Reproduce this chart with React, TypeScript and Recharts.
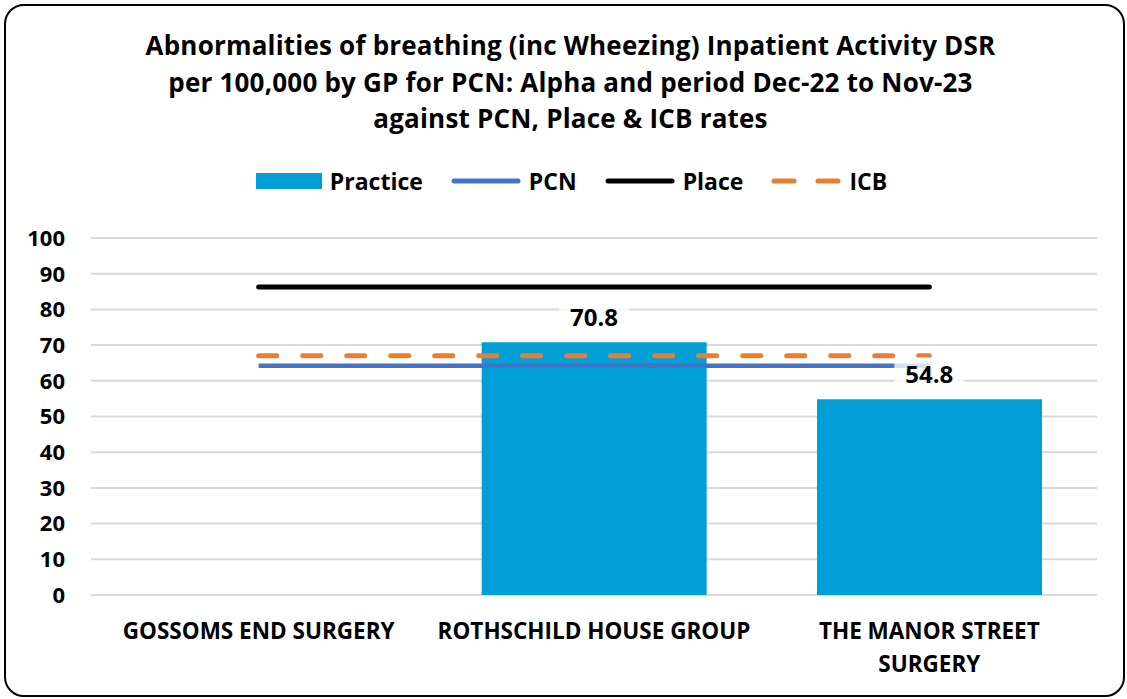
import React from 'react';
import {
  ComposedChart,
  Bar,
  Line,
  XAxis,
  YAxis,
  CartesianGrid,
  LabelList,
} from 'recharts';

const practices = ['GOSSOMS END SURGERY', 'ROTHSCHILD HOUSE GROUP', 'THE MANOR STREET SURGERY'];
const practiceRate = [null, 70.8, 54.8];
const pcnRate = [64.2, 64.2, 64.2];
const placeRate = [86.3, 86.3, 86.3];
const icbRate = [67.0, 67.0, 67.0];
const yTicks = [0, 10, 20, 30, 40, 50, 60, 70, 80, 90, 100];

const titleLines = [
  'Abnormalities of breathing (inc Wheezing) Inpatient Activity DSR',
  'per 100,000 by GP for PCN: Alpha and period Dec-22 to Nov-23',
  'against PCN, Place & ICB rates',
];

const FONT = '"Open Sans", Lato, sans-serif';
const BAR = '#009FD7';
const PCN = '#4472C4';
const PLACE = '#000000';
const ICB = '#ED7D31';

const data = practices.map((name, i) => ({
  name,
  practice: practiceRate[i],
  pcn: pcnRate[i],
  place: placeRate[i],
  icb: icbRate[i],
}));

// break a label into lines of at most 22 characters
const wrap = (s: string, max = 22) => {
  const lines: string[] = [];
  let cur = '';
  s.split(' ').forEach((w) => {
    if (cur && (cur + ' ' + w).length > max) {
      lines.push(cur);
      cur = w;
    } else {
      cur = cur ? cur + ' ' + w : w;
    }
  });
  if (cur) lines.push(cur);
  return lines;
};

const XTick = (props: any) => {
  const { x, y, payload } = props;
  return (
    <text
      x={x}
      y={y + 36}
      textAnchor="middle"
      style={{ fontFamily: FONT, fontSize: 22.5, fontWeight: 700, fill: '#000' }}
    >
      {wrap(payload.value).map((l, i) => (
        <tspan key={l} x={x} dy={i === 0 ? 0 : 33}>
          {l}
        </tspan>
      ))}
    </text>
  );
};

const ValueLabel = (props: any) => {
  const { x, y, value } = props;
  if (value == null) return null;
  const cy = y - 26;
  return (
    <g>
      <rect x={x - 35} y={cy - 16} width={70} height={32} fill="#fff" fillOpacity={0.78} />
      <text
        x={x}
        y={cy}
        textAnchor="middle"
        dominantBaseline="central"
        style={{ fontFamily: FONT, fontSize: 24, fontWeight: 700, fill: '#000' }}
      >
        {value}
      </text>
    </g>
  );
};

const legendText = { fontFamily: FONT, fontSize: 23, fontWeight: 700, color: '#000' };

const ChartLegend = () => (
  <div
    style={{
      position: 'absolute',
      left: 0,
      top: 165,
      width: 1127,
      display: 'flex',
      justifyContent: 'center',
      alignItems: 'center',
      gap: 28,
      paddingLeft: 16,
      boxSizing: 'border-box',
    }}
  >
    <div style={{ display: 'flex', alignItems: 'center', gap: 8 }}>
      <div style={{ width: 66, height: 16, background: BAR }} />
      <span style={legendText}>Practice</span>
    </div>
    <div style={{ display: 'flex', alignItems: 'center', gap: 8 }}>
      <svg width={70} height={10}>
        <line x1={3} y1={5} x2={67} y2={5} stroke={PCN} strokeWidth={5} strokeLinecap="round" />
      </svg>
      <span style={legendText}>PCN</span>
    </div>
    <div style={{ display: 'flex', alignItems: 'center', gap: 8 }}>
      <svg width={70} height={10}>
        <line x1={3} y1={5} x2={67} y2={5} stroke={PLACE} strokeWidth={5} strokeLinecap="round" />
      </svg>
      <span style={legendText}>Place</span>
    </div>
    <div style={{ display: 'flex', alignItems: 'center', gap: 8 }}>
      <svg width={70} height={10}>
        <line x1={3} y1={5} x2={67} y2={5} stroke={ICB} strokeWidth={5} strokeLinecap="round" strokeDasharray="20 24" />
      </svg>
      <span style={legendText}>ICB</span>
    </div>
  </div>
);

export default function App() {
  return (
    <div style={{ position: 'absolute', left: 0, top: 0, width: 1127, height: 699, background: '#fff' }}>
      <div
        style={{
          position: 'absolute',
          left: 4,
          top: 4,
          width: 1117,
          height: 689,
          border: '2px solid #000',
          borderRadius: 20,
        }}
      />
      <div
        style={{
          position: 'absolute',
          left: 0,
          top: 27,
          width: 1127,
          paddingLeft: 14,
          boxSizing: 'border-box',
          textAlign: 'center',
          fontFamily: FONT,
          fontSize: 26,
          letterSpacing: 0.2,
          fontWeight: 700,
          lineHeight: '36.5px',
          color: '#000',
        }}
      >
        {titleLines.map((t) => (
          <div key={t}>{t}</div>
        ))}
      </div>
      <ChartLegend />
      <div style={{ position: 'absolute', left: 0, top: 0 }}>
        <ComposedChart
          width={1127}
          height={699}
          data={data}
          margin={{ top: 238, right: 30, bottom: 0, left: 0 }}
          barCategoryGap="16.5%"
        >
          <CartesianGrid vertical={false} stroke="#D9D9D9" strokeWidth={2} />
          <XAxis
            dataKey="name"
            axisLine={false}
            tickLine={false}
            height={104}
            interval={0}
            tick={<XTick />}
          />
          <YAxis
            domain={[0, 100]}
            ticks={yTicks}
            width={91}
            axisLine={false}
            tickLine={false}
            tickMargin={20}
            tick={{ fontFamily: FONT, fontSize: 22, fontWeight: 700, fill: '#000' }}
          />
          <Bar dataKey="practice" fill={BAR} isAnimationActive={false} />
          <Line
            dataKey="pcn"
            stroke={PCN}
            strokeWidth={4.5}
            dot={false}
            activeDot={false}
            isAnimationActive={false}
          />
          <Line
            dataKey="place"
            stroke={PLACE}
            strokeWidth={5}
            strokeLinecap="round"
            dot={false}
            activeDot={false}
            isAnimationActive={false}
          />
          <Line
            dataKey="icb"
            stroke={ICB}
            strokeWidth={5}
            strokeLinecap="round"
            strokeDasharray="18 26"
            dot={false}
            activeDot={false}
            isAnimationActive={false}
          />
          <Line
            dataKey="practice"
            stroke="none"
            dot={false}
            activeDot={false}
            legendType="none"
            isAnimationActive={false}
          >
            <LabelList dataKey="practice" content={<ValueLabel />} />
          </Line>
        </ComposedChart>
      </div>
    </div>
  );
}
